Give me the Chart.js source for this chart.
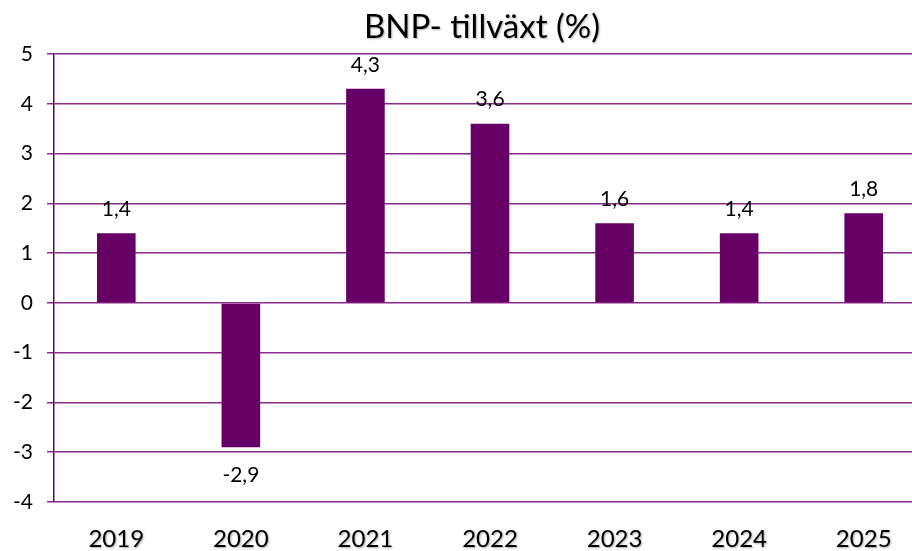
<!DOCTYPE html>
<html><head><meta charset="utf-8">
<script src="https://cdn.jsdelivr.net/npm/chart.js@4/dist/chart.umd.min.js"></script>
<style>html,body{margin:0;padding:0;background:#fff;overflow:hidden;width:912px;height:551px}
#wrap{width:926px;height:551px;position:relative}</style>
</head><body><div id="wrap"><canvas id="c"></canvas></div>
<script>
const titleText = 'BNP- tillväxt (%)';
const years = ['2019','2020','2021','2022','2023','2024','2025'];
const growth = [1.4, -2.9, 4.3, 3.6, 1.6, 1.4, 1.8];
const yTicks = [5,4,3,2,1,0,-1,-2,-3,-4];

const FONT = 'Lato, "Open Sans", sans-serif';

const labelPlugin = {
  id: 'valLabels',
  afterDatasetsDraw(chart) {
    const ctx = chart.ctx;
    const meta = chart.getDatasetMeta(0);
    ctx.save();
    ctx.font = '21px ' + FONT;
    ctx.fillStyle = '#000';
    ctx.textAlign = 'center';
    ctx.textBaseline = 'middle';
    meta.data.forEach((bar, i) => {
      const v = growth[i];
      const txt = String(v).replace('.', ',');
      const y = v >= 0 ? bar.y - 24 : bar.y + 28;
      ctx.fillText(txt, bar.x, y);
    });
    ctx.restore();
  }
};
const shadowPlugin = {
  id: 'xshadow',
  afterLayout(chart) {
    const xs = chart.scales.x;
    if (xs._shadowWrapped) return;
    xs._shadowWrapped = true;
    const orig = Object.getPrototypeOf(xs).drawLabels;
    xs.drawLabels = function(area) {
      const ctx = this.ctx;
      ctx.save();
      ctx.shadowColor = 'rgba(0,0,0,0.35)';
      ctx.shadowOffsetX = 1; ctx.shadowOffsetY = 1; ctx.shadowBlur = 2;
      orig.call(this, area);
      ctx.restore();
    };
  }
};
const titlePlugin = {
  id: 'ttl',
  afterDraw(chart) {
    const ctx = chart.ctx;
    ctx.save();
    ctx.font = '33px ' + FONT;
    ctx.fillStyle = '#000';
    ctx.shadowColor = 'rgba(0,0,0,0.3)';
    ctx.shadowOffsetX = 1; ctx.shadowOffsetY = 1; ctx.shadowBlur = 2;
    ctx.textAlign = 'center';
    ctx.textBaseline = 'alphabetic';
    ctx.fillText(titleText, 482, 38);
    ctx.restore();
  }
};

new Chart(document.getElementById('c'), {
  type: 'bar',
  data: { labels: years, datasets: [{ data: growth, backgroundColor: '#660066', borderWidth: 0, barPercentage: 0.62, categoryPercentage: 0.5 }] },
  options: {
    responsive: true, maintainAspectRatio: false, animation: false,
    layout: { padding: { top: 54, left: 0, right: 0, bottom: 0 } },
    plugins: { legend: { display: false }, tooltip: { enabled: false } },
    scales: {
      x: {
        grid: { display: false, drawTicks: false },
        border: { display: false },
        ticks: { color: '#000', font: { family: FONT, size: 24 }, padding: 23 },
        afterFit(s) { s.height = 49; }
      },
      y: {
        min: -4, max: 5,
        afterBuildTicks(s) { s.ticks = yTicks.slice().reverse().map(v => ({ value: v })); },
        grid: { color: '#8a2a8a', lineWidth: 1.5, tickLength: 7 },
        border: { color: '#660066', width: 1.5 },
        ticks: { color: '#000', font: { family: FONT, size: 21 }, padding: 14 },
        afterFit(s) { s.width = 54; }
      }
    }
  },
  plugins: [shadowPlugin, labelPlugin, titlePlugin]
});
</script></body></html>
